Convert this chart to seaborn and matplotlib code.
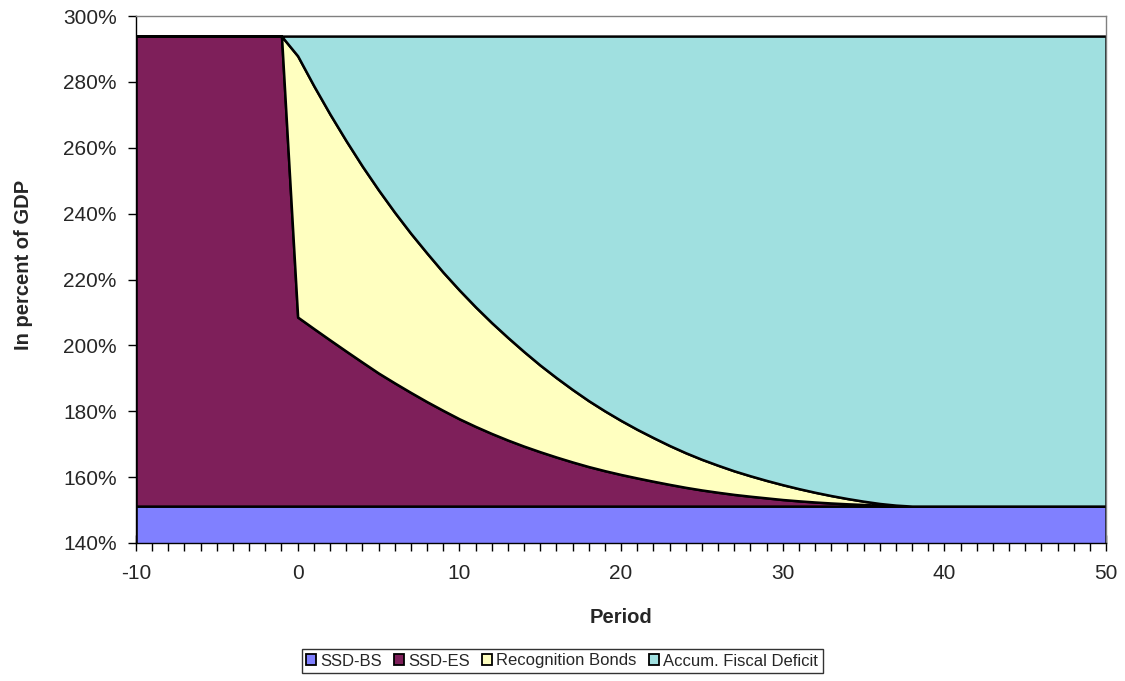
import numpy as np
import pandas as pd
import matplotlib
matplotlib.use("Agg")
import matplotlib.pyplot as plt
import seaborn as sns
from matplotlib.patches import Patch
from matplotlib.ticker import MultipleLocator, FuncFormatter

# ---- data (percent of GDP) ----
periods = list(range(-10, 51))
ssd_bs_level = 151.2
total_level = 293.9
# SSD-ES excess over SSD-BS (cumulative top minus SSD-BS), periods -10..50
ssd_es = [142.7] * 10 + [
    57.4, 53.9, 50.45, 47.05, 43.7, 40.4, 37.4, 34.5, 31.7, 29.05,
    26.5, 24.2, 22.05, 20.05, 18.2, 16.5, 14.9, 13.4, 12.0, 10.75,
    9.6, 8.55, 7.55, 6.6, 5.7, 4.9, 4.2, 3.55, 3.0, 2.5,
    2.0, 1.6, 1.25, 0.95, 0.7, 0.5, 0.25, 0.08, 0.0, 0.0,
    0.0, 0.0, 0.0, 0.0, 0.0, 0.0, 0.0, 0.0, 0.0, 0.0, 0.0]
# Recognition bonds top (cumulative) minus SSD-BS, periods -10..50
rb_top_excess = [142.7] * 10 + [
    136.7, 127.6, 119.0, 110.9, 103.2, 96.0, 89.2, 82.8, 76.8, 71.0,
    65.6, 60.5, 55.7, 51.2, 46.9, 42.8, 39.0, 35.4, 32.0, 28.9,
    26.0, 23.3, 20.8, 18.4, 16.2, 14.2, 12.4, 10.7, 9.2, 7.8,
    6.5, 5.3, 4.2, 3.2, 2.3, 1.5, 0.8, 0.3, 0.0, 0.0,
    0.0, 0.0, 0.0, 0.0, 0.0, 0.0, 0.0, 0.0, 0.0, 0.0, 0.0]

series_names = ["SSD-BS", "SSD-ES", "Recognition Bonds", "Accum. Fiscal Deficit"]
colors = ["#8080FF", "#7E1F5A", "#FFFFC0", "#A0E0E0"]

df = pd.DataFrame({"Period": periods})
df["SSD-BS"] = ssd_bs_level
df["SSD-ES"] = ssd_es
df["Recognition Bonds"] = np.array(rb_top_excess) - np.array(ssd_es)
df["Accum. Fiscal Deficit"] = total_level - ssd_bs_level - np.array(rb_top_excess)

sns.set_style("white")
plt.rcParams["font.family"] = ["Liberation Sans", "DejaVu Sans"]
plt.rcParams["axes.unicode_minus"] = False

fig = plt.figure(figsize=(11.25, 6.81), dpi=100)
ax = fig.add_axes([136/1125, 1-543/681, (1106-136)/1125, (543-16)/681])

ax.stackplot(df["Period"], [df[c] for c in series_names], colors=colors,
             edgecolor="black", linewidth=1.8, labels=series_names)

ax.set_xlim(-10, 50)
ax.set_ylim(140, 300)
ax.xaxis.set_major_locator(MultipleLocator(10))
ax.xaxis.set_minor_locator(MultipleLocator(1))
ax.yaxis.set_major_locator(MultipleLocator(20))
ax.yaxis.set_major_formatter(FuncFormatter(lambda v, p: f"{v:.0f}%"))

for s in ["top", "right"]:
    ax.spines[s].set_color("#808080")
    ax.spines[s].set_linewidth(1.0)
for s in ["left", "bottom"]:
    ax.spines[s].set_color("black")
    ax.spines[s].set_linewidth(1.0)

ax.tick_params(axis="y", which="major", direction="out", length=6, width=1,
               color="black", labelsize=15, pad=8, left=True)
ax.tick_params(axis="x", which="major", direction="inout", length=12, width=1,
               color="black", labelsize=15, pad=9, bottom=True)
ax.tick_params(axis="x", which="minor", direction="inout", length=12, width=1,
               color="black", bottom=True)

ax.set_xlabel("Period", fontsize=14.5, fontweight="bold", labelpad=18)
ax.set_ylabel("In percent of GDP", fontsize=14.5, fontweight="bold")
ax.yaxis.set_label_coords((33 - 136) / 970, (543 - 265) / 527)

handles = [Patch(facecolor=c, edgecolor="black", linewidth=1.3) for c in colors]
leg = fig.legend(handles, series_names, loc="center", bbox_to_anchor=(562/1125, 1-661/681),
                 ncol=4, fontsize=12, frameon=True, fancybox=False, edgecolor="black",
                 handlelength=0.6, handleheight=0.6, handletextpad=0.25, columnspacing=0.75,
                 borderpad=0.25, borderaxespad=0)
leg.get_frame().set_linewidth(1.0)

fig.savefig("out.png", dpi=100)
